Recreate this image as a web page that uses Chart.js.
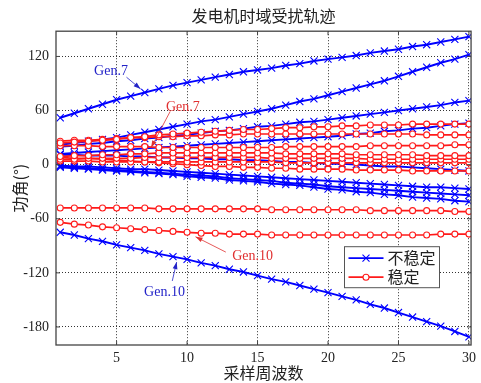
<!DOCTYPE html>
<html>
<head>
<meta charset="utf-8">
<script src="https://cdn.jsdelivr.net/npm/chart.js@4.4.1/dist/chart.umd.min.js"></script>
<style>
  html, body { margin: 0; padding: 0; background: #fff; }
</style>
</head>
<body>
<canvas id="angleChart" width="481" height="383"></canvas>
<script>
// 采样周波数
const cycles = [1,2,3,4,5,6,7,8,9,10,11,12,13,14,15,16,17,18,19,20,21,22,23,24,25,26,27,28,29,30];
const xTicks = [5, 10, 15, 20, 25, 30];
const yTicks = [-180, -120, -60, 0, 60, 120];

// 不稳定 (blue)
const unstableGen7 = [52,57,62,67,72,76,80,84,88,91,94,97,100,103,105,107,110,112,115,117,119,121,124,126,128,131,133,136,139,142];
const unstableB = [22,24,26,28,30,33,36,39,42,45,48,50,53,56,59,62,66,70,73,77,81,85,89,93,98,103,108,113,117,122];
const unstableC = [20,21,23,24,26,27,29,30,32,33,35,37,38,40,42,43,45,47,48,50,52,54,56,58,60,62,64,66,69,71];
const unstableD = [12,13,14,15,16,17,18,19,20,21,22,23,24,25,26,27,28,29,30,31,32,34,35,37,38,40,41,43,45,46];
const unstableE = [11,11,10,10,10,9,9,8,8,7,7,6,6,5,5,4,3,3,2,1,1,0,-1,-2,-2,-3,-4,-5,-6,-7];
const unstableF = [-1,-2,-2,-3,-4,-5,-5,-6,-7,-8,-9,-10,-11,-12,-13,-14,-15,-16,-17,-18,-19,-20,-21,-22,-23,-24,-25,-25,-26,-27];
const unstableG = [-2,-3,-4,-5,-6,-7,-8,-9,-10,-11,-12,-13,-15,-16,-17,-18,-20,-21,-22,-24,-25,-26,-27,-28,-29,-30,-31,-32,-33,-34];
const unstableH = [-3,-4,-5,-6,-7,-8,-9,-10,-11,-13,-14,-15,-17,-18,-19,-21,-22,-23,-25,-27,-28,-30,-31,-33,-34,-36,-37,-38,-40,-41];
const unstableGen10 = [-75,-78,-82,-85,-89,-92,-95,-99,-102,-105,-109,-112,-116,-119,-123,-127,-130,-134,-138,-142,-146,-150,-155,-159,-164,-169,-174,-179,-185,-191];

// 稳定 (red)
const stableA = [24,25,26,27,28,30,31,33,34,35,36,37,38,39,39,40,41,41,42,42,43,43,44,44,44,45,45,45,45,45];
const stableB = [26,27,27,28,29,30,30,31,31,32,32,33,33,34,34,34,34,34,34,34,34,34,34,34,34,34,33,33,33,33];
const stableC = [21,21,21,20,20,20,20,19,19,19,19,19,19,19,19,19,20,20,20,20,20,20,21,21,21,21,21,21,22,22];
const stableD = [9,10,10,11,11,12,12,13,13,13,13,13,13,13,13,13,12,12,12,12,12,11,11,11,11,11,10,10,10,10];
const stableE = [6,6,7,7,7,7,8,8,8,8,8,8,8,8,8,7,7,7,7,7,7,7,6,6,6,6,6,6,6,6];
const stableF = [4,4,4,3,3,3,3,3,3,3,3,3,3,3,3,3,2,2,2,2,2,2,2,2,2,2,2,2,2,2];
const stableG = [8,7,7,6,5,4,3,2,1,0,-1,-2,-2,-3,-3,-4,-4,-5,-5,-5,-5,-6,-6,-6,-6,-7,-7,-7,-7,-7];
const stableH = [-48,-48,-48,-48,-48,-48,-48,-49,-49,-49,-49,-49,-49,-49,-49,-50,-50,-50,-50,-50,-50,-50,-51,-51,-51,-51,-51,-51,-52,-52];
const stableGen10 = [-64,-66,-67,-69,-70,-71,-72,-73,-74,-75,-76,-76,-77,-77,-77,-78,-78,-78,-78,-78,-78,-78,-78,-78,-78,-78,-78,-77,-77,-77];

const unstableSeries = [unstableGen7, unstableB, unstableC, unstableD, unstableE, unstableF, unstableG, unstableH, unstableGen10];
const stableSeries = [stableA, stableB, stableC, stableD, stableE, stableF, stableG, stableH, stableGen10];

const BLUE = '#0000ff';
const RED = '#ff1a1a';
const SERIF = '"Liberation Serif", "Noto Sans CJK SC", serif';

const toPoints = vals => cycles.map((c, i) => ({ x: c, y: vals[i] }));

const datasets = [];
unstableSeries.forEach(vals => datasets.push({
    label: '不稳定',
    data: toPoints(vals),
    borderColor: BLUE,
    borderWidth: 1.9,
    pointStyle: 'crossRot',
    pointRadius: 5,
    pointBorderColor: BLUE,
    pointBorderWidth: 1.1,
    order: 1
}));
stableSeries.forEach(vals => datasets.push({
    label: '稳定',
    data: toPoints(vals),
    borderColor: RED,
    borderWidth: 1.7,
    pointStyle: 'circle',
    pointRadius: 3,
    pointBorderColor: RED,
    pointBackgroundColor: '#fff',
    pointBorderWidth: 1.1,
    order: 0
}));

// annotations (data coordinates)
const notes = [
    { text: 'Gen.7', color: '#2323c8', tx: 4.6, ty: 104, ax: 5.7, ay: 97, bx: 6.7, by: 84 },
    { text: 'Gen.7', color: '#e03030', tx: 9.7, ty: 64, ax: 8.8, ay: 59, bx: 7.45, by: 19 },
    { text: 'Gen.10', color: '#e03030', tx: 14.65, ty: -102, ax: 12.75, ay: -97, bx: 10.6, by: -80 },
    { text: 'Gen.10', color: '#2323c8', tx: 8.4, ty: -142, ax: 8.95, ay: -129, bx: 9.26, by: -108 }
];

function arrow(ctx, x1, y1, x2, y2, color) {
    const a = Math.atan2(y2 - y1, x2 - x1), L = 7, W = 2.4;
    ctx.strokeStyle = color;
    ctx.lineWidth = 0.8;
    ctx.beginPath(); ctx.moveTo(x1, y1); ctx.lineTo(x2, y2); ctx.stroke();
    ctx.fillStyle = color;
    ctx.beginPath();
    ctx.moveTo(x2, y2);
    ctx.lineTo(x2 - L * Math.cos(a) + W * Math.sin(a), y2 - L * Math.sin(a) - W * Math.cos(a));
    ctx.lineTo(x2 - L * Math.cos(a) - W * Math.sin(a), y2 - L * Math.sin(a) + W * Math.cos(a));
    ctx.closePath(); ctx.fill();
}

const extras = {
    id: 'extras',
    afterDatasetsDraw(chart) {
        const { ctx, chartArea: ca, scales: { x, y } } = chart;
        ctx.save();
        // frame
        ctx.strokeStyle = '#444';
        ctx.lineWidth = 1.3;
        ctx.strokeRect(ca.left, ca.top, ca.right - ca.left, ca.bottom - ca.top);
        // inward ticks
        ctx.lineWidth = 1;
        ctx.beginPath();
        xTicks.forEach(v => {
            const px = x.getPixelForValue(v);
            ctx.moveTo(px, ca.bottom); ctx.lineTo(px, ca.bottom - 4);
            ctx.moveTo(px, ca.top); ctx.lineTo(px, ca.top + 4);
        });
        yTicks.forEach(v => {
            const py = y.getPixelForValue(v);
            ctx.moveTo(ca.left, py); ctx.lineTo(ca.left + 4, py);
            ctx.moveTo(ca.right, py); ctx.lineTo(ca.right - 4, py);
        });
        ctx.stroke();

        // annotations
        ctx.font = '14px ' + SERIF;
        ctx.textAlign = 'center';
        ctx.textBaseline = 'middle';
        notes.forEach(n => {
            ctx.fillStyle = n.color;
            ctx.fillText(n.text, x.getPixelForValue(n.tx), y.getPixelForValue(n.ty));
            arrow(ctx, x.getPixelForValue(n.ax), y.getPixelForValue(n.ay),
                x.getPixelForValue(n.bx), y.getPixelForValue(n.by), n.color);
        });

        // legend
        const lx = ca.left + 288.5, ly = ca.top + 215.5, lw = 95, lh = 41;
        ctx.fillStyle = '#fff';
        ctx.fillRect(lx, ly, lw, lh);
        ctx.strokeStyle = '#555';
        ctx.lineWidth = 1;
        ctx.strokeRect(lx, ly, lw, lh);
        const rows = [
            { label: '不稳定', color: BLUE, marker: 'x' },
            { label: '稳定', color: RED, marker: 'o' }
        ];
        rows.forEach((r, i) => {
            const ry = ly + 11.5 + i * 19;
            ctx.strokeStyle = r.color;
            ctx.lineWidth = 1.8;
            ctx.beginPath(); ctx.moveTo(lx + 4, ry); ctx.lineTo(lx + 39, ry); ctx.stroke();
            const mx = lx + 21.5;
            ctx.lineWidth = 1.1;
            if (r.marker === 'x') {
                ctx.beginPath();
                ctx.moveTo(mx - 3.5, ry - 3.5); ctx.lineTo(mx + 3.5, ry + 3.5);
                ctx.moveTo(mx + 3.5, ry - 3.5); ctx.lineTo(mx - 3.5, ry + 3.5);
                ctx.stroke();
            } else {
                ctx.fillStyle = '#fff';
                ctx.beginPath(); ctx.arc(mx, ry, 3, 0, Math.PI * 2); ctx.fill(); ctx.stroke();
            }
            ctx.fillStyle = '#222';
            ctx.font = '16px "Noto Sans CJK SC", sans-serif';
            ctx.textAlign = 'left';
            ctx.fillText(r.label, lx + 43, ry);
        });
        ctx.restore();
    }
};

new Chart(document.getElementById('angleChart').getContext('2d'), {
    type: 'line',
    data: { datasets },
    options: {
        responsive: false,
        animation: false,
        layout: { padding: { left: 0, right: 6, top: 0, bottom: 0 } },
        plugins: {
            legend: { display: false },
            tooltip: { enabled: false },
            title: {
                display: true,
                text: '发电机时域受扰轨迹',
                fullSize: false,
                color: '#222',
                font: { family: '"Noto Sans CJK SC", sans-serif', size: 16, weight: 'normal' },
                padding: { top: 6, bottom: 6 }
            }
        },
        scales: {
            x: {
                type: 'linear',
                min: 0.7,
                max: 30.15,
                afterBuildTicks: s => { s.ticks = xTicks.map(v => ({ value: v })); },
                afterFit: s => { s.height = 38; },
                grid: { color: '#333', lineWidth: 1, drawTicks: false },
                border: { display: false, dash: [1, 2] },
                ticks: { color: '#222', padding: 5, font: { family: SERIF, size: 14 } },
                title: {
                    display: true,
                    text: '采样周波数',
                    color: '#222',
                    font: { family: '"Noto Sans CJK SC", sans-serif', size: 16 },
                    padding: { top: 0, bottom: 0 }
                }
            },
            y: {
                min: -200,
                max: 148,
                afterBuildTicks: s => { s.ticks = yTicks.map(v => ({ value: v })); },
                afterFit: s => { s.width = 56; },
                grid: { color: '#333', lineWidth: 1, drawTicks: false },
                border: { display: false, dash: [1, 2] },
                ticks: { color: '#222', padding: 7, font: { family: SERIF, size: 14 } },
                title: {
                    display: true,
                    text: '功角(°)',
                    color: '#222',
                    font: { family: '"Noto Sans CJK SC", sans-serif', size: 16 },
                    padding: { top: 10, bottom: 0 }
                }
            }
        }
    },
    plugins: [extras]
});
</script>
</body>
</html>
